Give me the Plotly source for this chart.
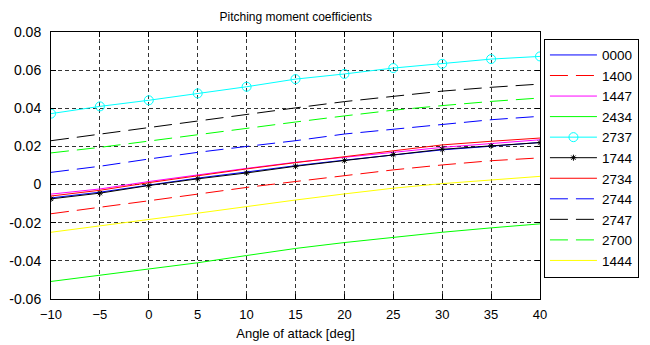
import plotly.graph_objects as go

# Angle of attack in degrees
alpha = [-10, -5, 0, 5, 10, 15, 20, 25, 30, 35, 40]

# Pitching moment coefficient per airfoil
cm_0000 = [-0.0070, -0.0040, -0.0003, 0.0034, 0.0066, 0.0099, 0.0128, 0.0155, 0.0182, 0.0201, 0.0221]
cm_1400 = [-0.0153, -0.0120, -0.0085, -0.0050, -0.0015, 0.0016, 0.0047, 0.0077, 0.0103, 0.0125, 0.0140]
cm_1447 = [-0.0050, -0.0023, 0.0016, 0.0052, 0.0085, 0.0117, 0.0143, 0.0170, 0.0195, 0.0215, 0.0235]
cm_2434 = [-0.0508, -0.0476, -0.0441, -0.0410, -0.0372, -0.0335, -0.0304, -0.0276, -0.0250, -0.0227, -0.0206]
cm_2737 = [0.0372, 0.0410, 0.0442, 0.0478, 0.0513, 0.0553, 0.0580, 0.0611, 0.0633, 0.0658, 0.0672]
cm_1744 = [-0.0075, -0.0045, -0.0005, 0.0030, 0.0061, 0.0096, 0.0126, 0.0157, 0.0185, 0.0203, 0.0220]
cm_2734 = [-0.0060, -0.0030, 0.0010, 0.0047, 0.0082, 0.0115, 0.0145, 0.0178, 0.0208, 0.0227, 0.0244]
cm_2744 = [0.0064, 0.0096, 0.0134, 0.0169, 0.0200, 0.0230, 0.0265, 0.0290, 0.0318, 0.0340, 0.0358]
cm_2747 = [0.0230, 0.0265, 0.0300, 0.0335, 0.0370, 0.0402, 0.0435, 0.0463, 0.0490, 0.0510, 0.0527]
cm_2700 = [0.0166, 0.0195, 0.0228, 0.0262, 0.0295, 0.0328, 0.0360, 0.0390, 0.0414, 0.0436, 0.0454]
cm_1444 = [-0.0250, -0.0218, -0.0183, -0.0150, -0.0115, -0.0081, -0.0049, -0.0019, 0.0005, 0.0025, 0.0043]

x_ticks = [-10, -5, 0, 5, 10, 15, 20, 25, 30, 35, 40]
y_ticks = [-0.06, -0.04, -0.02, 0, 0.02, 0.04, 0.06, 0.08]
y_tick_text = ["-0.06", "-0.04", "-0.02", "0", "0.02", "0.04", "0.06", "0.08"]

DASH = "18px,8px"
FONT = "Liberation Sans, Arial"

series = [
    ("0000", cm_0000, "#0000ff", "solid", None),
    ("1400", cm_1400, "#ff0000", DASH, None),
    ("1447", cm_1447, "#ff00ff", "solid", None),
    ("2434", cm_2434, "#00ff00", "solid", None),
    ("2737", cm_2737, "#00ffff", "solid", "circle-open"),
    ("1744", cm_1744, "#000000", "solid", "asterisk-open"),
    ("2734", cm_2734, "#ff0000", "solid", None),
    ("2744", cm_2744, "#0000ff", DASH, None),
    ("2747", cm_2747, "#000000", DASH, None),
    ("2700", cm_2700, "#00ff00", DASH, None),
    ("1444", cm_1444, "#ffff00", "solid", None),
]

fig = go.Figure()
for name, vals, color, dash, sym in series:
    kw = dict(mode="lines")
    if sym is not None:
        kw["mode"] = "lines+markers"
        kw["marker"] = dict(symbol=sym, size=9 if sym == "circle-open" else 5,
                            color=color, line=dict(color=color, width=1))
    fig.add_trace(go.Scatter(
        x=alpha, y=vals, name=name, legendgroup=name,
        line=dict(color=color, width=1, dash=dash), **kw))

axis_common = dict(
    showline=True, linecolor="black", linewidth=1, mirror="ticks",
    ticks="inside", ticklen=5, tickcolor="black", automargin=False,
    showgrid=True, gridcolor="#333333", griddash="4px,3px", gridwidth=1,
    zeroline=False,
)

fig.update_xaxes(range=[-10, 40], tickvals=x_ticks, ticklabelstandoff=3,
                 tickfont=dict(family=FONT, size=13, color="black"),
                 title=dict(text="Angle of attack [deg]", standoff=8,
                            font=dict(family=FONT, size=13, color="black")),
                 **axis_common)
fig.update_yaxes(range=[-0.06, 0.08], tickvals=y_ticks, ticktext=y_tick_text,
                 tickfont=dict(family=FONT, size=14, color="black"),
                 ticklabelstandoff=6, **axis_common)

fig.update_layout(
    width=650, height=345,
    margin=dict(l=51, r=109, t=32, b=46),
    paper_bgcolor="white", plot_bgcolor="white",
    title=dict(text="Pitching moment coefficients", x=0.455, xanchor="center",
               y=0.95, yanchor="middle",
               font=dict(family=FONT, size=12, color="black")),
    legend=dict(x=1.006, xanchor="left", y=0.975, yanchor="top",
                bordercolor="black", borderwidth=1, bgcolor="white",
                font=dict(family=FONT, size=13.5, color="black"),
                itemwidth=47, tracegroupgap=3, traceorder="normal"),
    showlegend=True,
)

fig.write_html("out.html")
